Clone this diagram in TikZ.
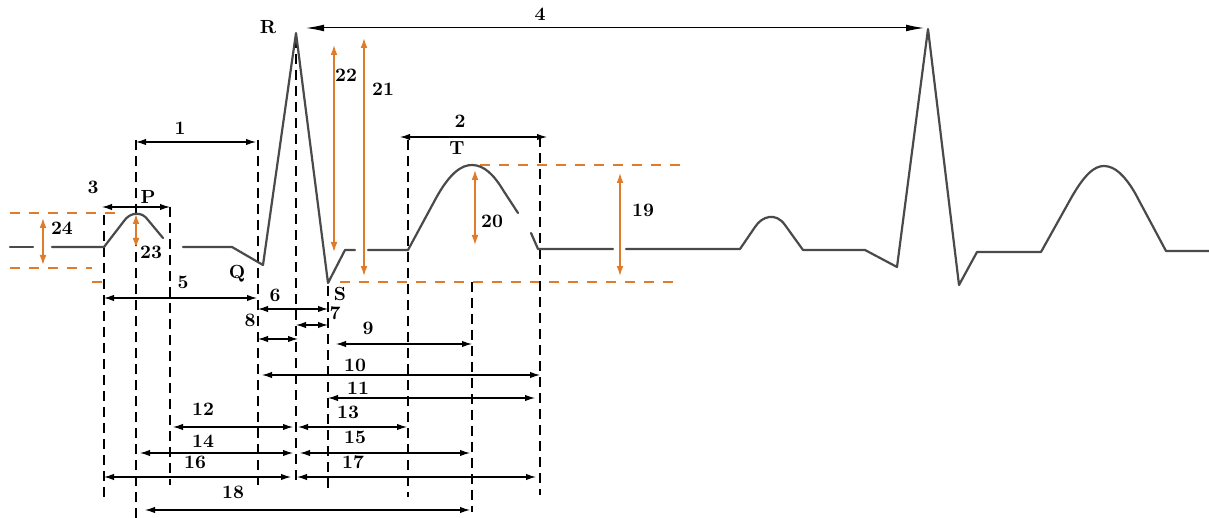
\documentclass[tikz,border=0pt]{standalone}
\usetikzlibrary{arrows.meta}
\definecolor{ecgorange}{HTML}{E07B2A}
\definecolor{ecggray}{HTML}{4A4A4A}
\begin{document}
\begin{tikzpicture}[x=0.5pt,y=-0.5pt,
  ecg/.style={draw=ecggray,line width=1.1pt,line join=round,line cap=round},
  vdash/.style={draw=black,line width=0.7pt,dash pattern=on 5pt off 3pt},
  odash/.style={draw=ecgorange,line width=0.6pt,dash pattern=on 5pt off 4.5pt},
  dim/.style={draw=black,line width=0.6pt,{Latex[length=5pt,width=3.2pt]}-{Latex[length=5pt,width=3.2pt]}},
  bigdim/.style={draw=black,line width=0.5pt,{Latex[length=9pt,width=3.4pt]}-{Latex[length=9pt,width=3.4pt]}},
  odim/.style={draw=ecgorange,line width=0.7pt,{Latex[length=5pt,width=3.4pt]}-{Latex[length=5pt,width=3.4pt]}},
  lbl/.style={font=\bfseries\fontsize{9.5}{11}\selectfont,inner sep=1pt}]
\useasboundingbox[fill=white] (0,0) rectangle (1209,518);

% orange dashed level lines
\draw[odash] (10,213) -- (115,213);
\draw[odash] (10,268) -- (92,268);
\draw[odash] (92,282) -- (102,282);
\draw[odash] (480,165) -- (680,165);
\draw[odash] (340,282) -- (675,282);

% black dashed vertical lines
\draw[vdash] (104,215) -- (104,497);
\draw[vdash] (136,140) -- (136,518);
\draw[vdash] (170,207) -- (170,485);
\draw[vdash] (258,140) -- (258,485);
\draw[vdash] (296,38) -- (296,482);
\draw[vdash] (328,286) -- (328,488);
\draw[vdash] (408,140) -- (408,497);
\draw[vdash] (472,282) -- (472,512);
\draw[vdash] (540,137) -- (540,495);

% ECG trace
\draw[ecg] (10,247) -- (33,247);
\draw[ecg] (52,247) -- (104,247) -- (124,221) .. controls (130,212) and (142,211) .. (148,220) -- (163,238);
\draw[ecg] (183,247) -- (232,247) -- (263,265) -- (296,33) -- (328,283) -- (345,250) -- (355,250);
\draw[ecg] (368,250) -- (408,250) -- (435,200) .. controls (450,172) and (462,165) .. (472,165)
  .. controls (484,165) and (494,175) .. (503,190) -- (518,213);
\draw[ecg] (531,233) -- (538,249) -- (613,249);
\draw[ecg] (626,249) -- (740,249) -- (755,227) .. controls (762,216) and (776,212) .. (785,225) -- (803,250)
  -- (865,250) -- (897,267) -- (928,29) -- (959,285) -- (977,252) -- (1041,252)
  -- (1070,200) .. controls (1085,173) and (1095,166) .. (1104,166)
  .. controls (1115,166) and (1125,176) .. (1135,193) -- (1166,251) -- (1209,251);

% orange amplitude arrows
\draw[odim] (43,218) -- (43,265);
\draw[odim] (136,214) -- (136,248);
\draw[odim] (334,45) -- (334,252);
\draw[odim] (364,38) -- (364,276);
\draw[odim] (475,170) -- (475,245);
\draw[odim] (620,173) -- (620,276);

% black interval arrows
\draw[bigdim] (306,28) -- (924,28);
\draw[dim] (136,142) -- (256,142);
\draw[dim] (400,137) -- (547,137);
\draw[dim] (102,207) -- (170,207);
\draw[dim] (104,298) -- (257,298);
\draw[dim] (258,309) -- (328,309);
\draw[dim] (296,325) -- (328,325);
\draw[dim] (258,339) -- (298,339);
\draw[dim] (336,344) -- (472,344);
\draw[dim] (262,375) -- (540,375);
\draw[dim] (328,398) -- (535,398);
\draw[dim] (173,427) -- (293,427);
\draw[dim] (298,427) -- (407,427);
\draw[dim] (140,453) -- (293,453);
\draw[dim] (300,453) -- (470,453);
\draw[dim] (104,477) -- (291,477);
\draw[dim] (297,477) -- (536,477);
\draw[dim] (145,510) -- (470,510);

% labels
\node[lbl] (n1) at (180,128) {1};
\node[lbl] (n2) at (460,121) {2};
\node[lbl] (n3) at (93,187) {3};
\node[lbl] (n4) at (540,14) {4};
\node[lbl] (n5) at (183,282) {5};
\node[lbl] (n6) at (275,295) {6};
\node[lbl] (n7) at (335,313) {7};
\node[lbl] (n8) at (250,320) {8};
\node[lbl] (n9) at (368,328) {9};
\node[lbl] (n10) at (355,365) {10};
\node[lbl] (n11) at (358,388) {11};
\node[lbl] (n12) at (203,409) {12};
\node[lbl] (n13) at (348,412) {13};
\node[lbl] (n14) at (203,441) {14};
\node[lbl] (n15) at (355,437) {15};
\node[lbl] (n16) at (195,462) {16};
\node[lbl] (n17) at (353,462) {17};
\node[lbl] (n18) at (233,492) {18};
\node[lbl] (n19) at (643,210) {19};
\node[lbl] (n20) at (492,221) {20};
\node[lbl] (n21) at (383,89) {21};
\node[lbl] (n22) at (346,75) {22};
\node[lbl] (n23) at (151,252) {23};
\node[lbl] (n24) at (62,228) {24};
\node[lbl] (nP) at (148,197) {P};
\node[lbl] (nQ) at (237,274) {Q};
\node[lbl] (nR) at (268,27) {R};
\node[lbl] (nS) at (340,294) {S};
\node[lbl] (nT) at (457,148) {T};
\end{tikzpicture}
\end{document}
